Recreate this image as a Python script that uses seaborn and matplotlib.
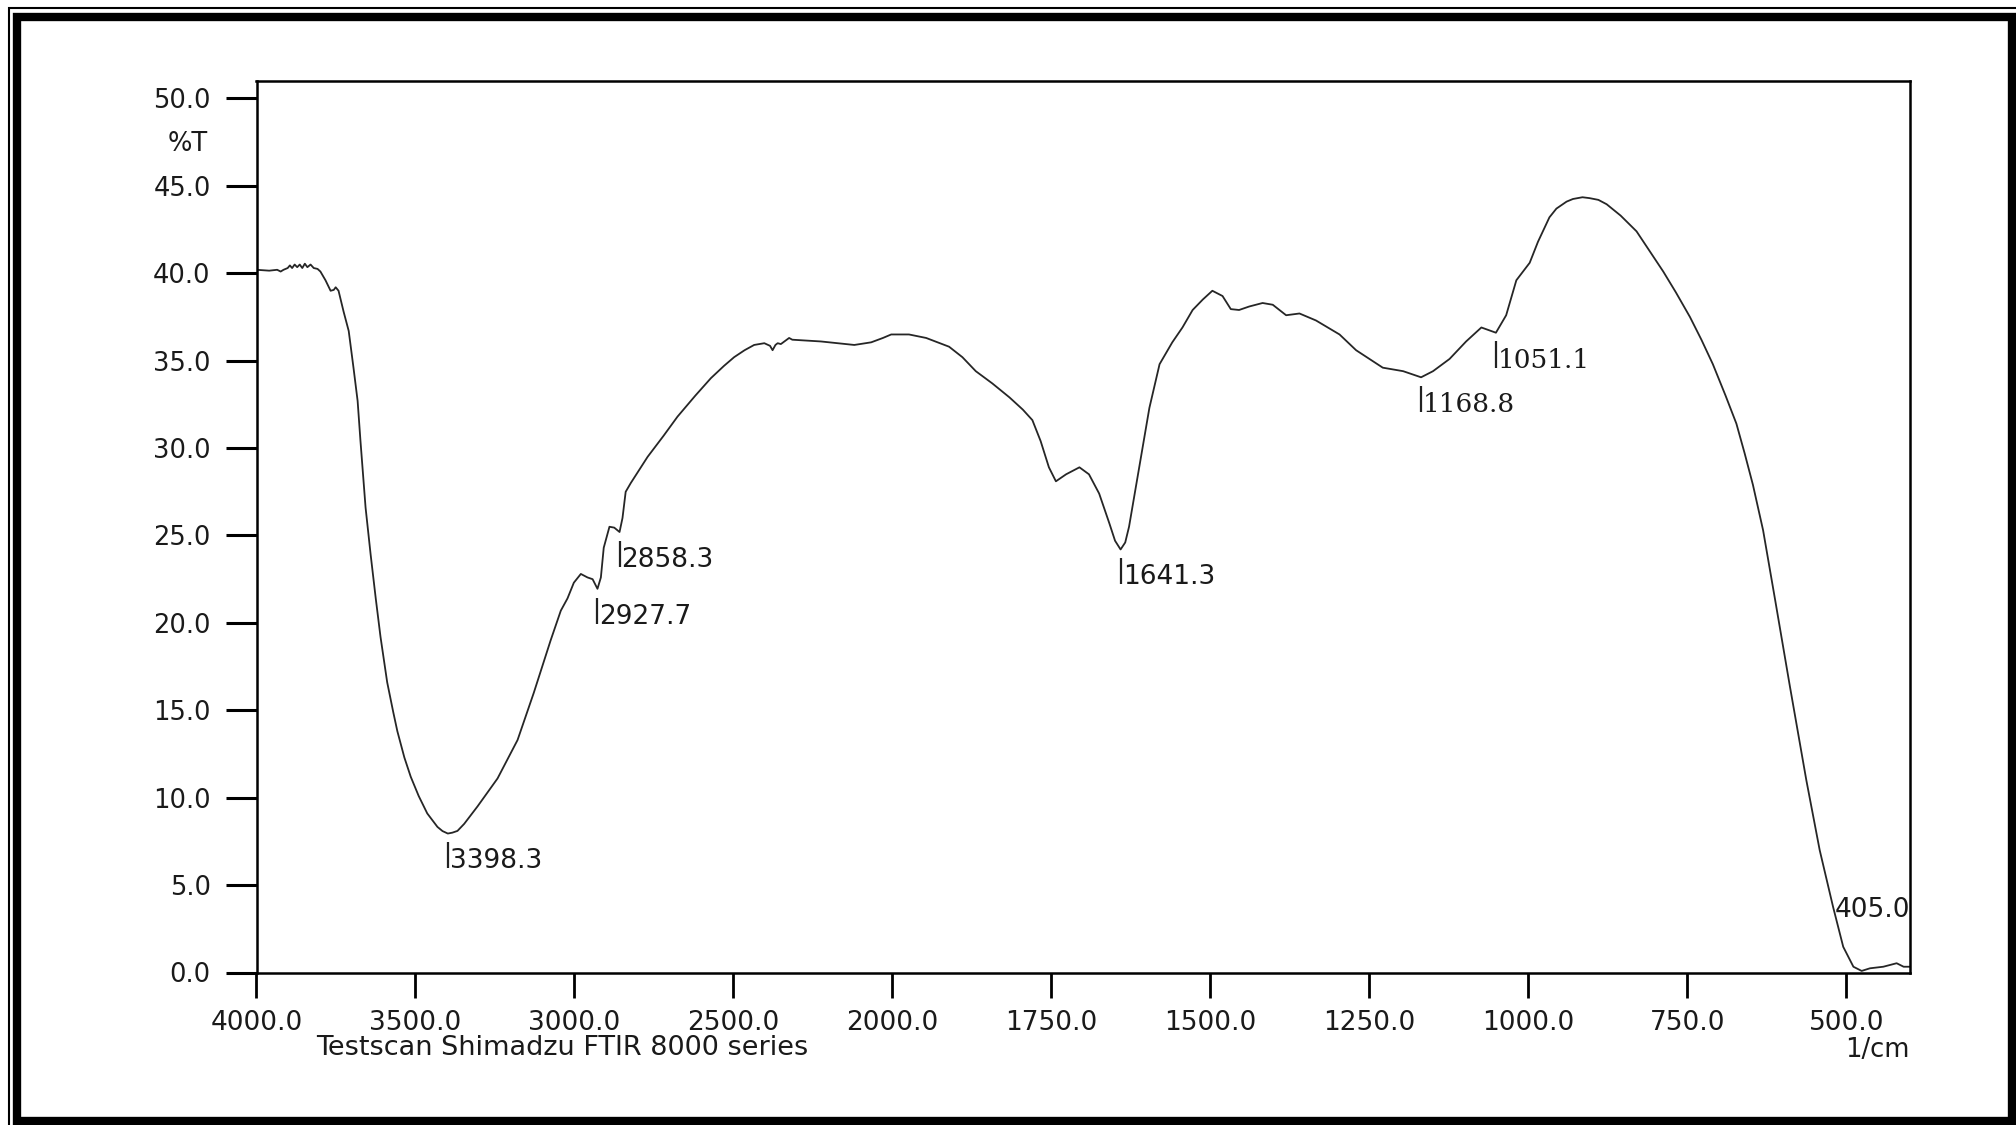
import numpy as np
import pandas as pd
import matplotlib
matplotlib.use("Agg")
import matplotlib.pyplot as plt
import seaborn as sns
from matplotlib.patches import Rectangle

# FTIR spectrum: wavenumber (1/cm) and transmittance (%T)
wavenumber = [
    4000, 3960, 3935, 3924, 3915, 3902, 3895, 3888, 3880, 3872, 3864, 3856,
    3848, 3840, 3830, 3820, 3808, 3799, 3783, 3767, 3757, 3751, 3742, 3726,
    3710, 3695, 3682, 3673, 3657, 3641, 3625, 3610, 3589, 3570, 3557, 3535,
    3515, 3490, 3463, 3431, 3415, 3398.3, 3384, 3368, 3347, 3305, 3242, 3179,
    3128, 3075, 3043, 3022, 3002, 2980, 2959, 2943, 2927.7, 2917, 2908, 2890,
    2875, 2858.3, 2849, 2839, 2823, 2770, 2720, 2676, 2620, 2571, 2530, 2498,
    2465, 2435, 2403, 2385, 2377, 2368, 2361, 2351, 2325, 2315, 2225, 2120,
    2067, 2030, 2004, 1974, 1947, 1911, 1890, 1869, 1843, 1816, 1795, 1780,
    1767, 1754, 1743, 1727, 1706, 1691, 1675, 1659, 1650, 1641.3, 1634, 1628,
    1612, 1596, 1580, 1560, 1544, 1528, 1512, 1497, 1481, 1468, 1455, 1439,
    1418, 1402, 1381, 1360, 1334, 1297, 1271, 1229, 1197, 1168.8, 1150, 1124,
    1098, 1074, 1051.1, 1035, 1019, 998, 985, 967, 956, 940, 930, 915,
    904, 890, 877, 855, 830, 810, 788, 768, 746, 728, 710, 690,
    673, 660, 647, 631, 612, 589, 563, 542, 521, 505, 489, 476,
    463, 442, 421, 410, 400,
]
transmittance = [
    40.2, 40.15, 40.2, 40.1, 40.2, 40.3, 40.45, 40.3, 40.5, 40.35, 40.5, 40.3,
    40.55, 40.35, 40.5, 40.3, 40.25, 40.1, 39.6, 39.0, 39.05, 39.2, 39.0, 37.8,
    36.7, 34.6, 32.7, 30.4, 26.6, 23.9, 21.4, 19.2, 16.6, 14.9, 13.8, 12.3,
    11.2, 10.1, 9.1, 8.33, 8.09, 7.95, 8.0, 8.1, 8.5, 9.5, 11.1, 13.3,
    16.0, 19.0, 20.7, 21.4, 22.3, 22.8, 22.6, 22.5, 21.95, 22.6, 24.3, 25.5,
    25.45, 25.2, 26.0, 27.5, 28.0, 29.5, 30.7, 31.8, 33.0, 34.0, 34.7, 35.2,
    35.6, 35.9, 36.0, 35.85, 35.6, 35.9, 36.0, 35.95, 36.3, 36.2, 36.1, 35.9,
    36.05, 36.3, 36.5, 36.5, 36.3, 35.8, 35.2, 34.4, 33.7, 32.9, 32.2, 31.6,
    30.4, 28.9, 28.1, 28.5, 28.9, 28.5, 27.4, 25.7, 24.7, 24.2, 24.6, 25.5,
    28.9, 32.3, 34.8, 36.05, 36.9, 37.9, 38.5, 39.0, 38.7, 37.95, 37.9, 38.1,
    38.3, 38.2, 37.6, 37.7, 37.3, 36.5, 35.6, 34.6, 34.4, 34.05, 34.4, 35.1,
    36.1, 36.9, 36.6, 37.6, 39.6, 40.6, 41.8, 43.2, 43.7, 44.1, 44.25, 44.35,
    44.3, 44.2, 43.95, 43.3, 42.4, 41.3, 40.1, 38.9, 37.5, 36.2, 34.8, 33.0,
    31.4, 29.7, 27.9, 25.3, 21.3, 16.4, 11.0, 7.0, 3.76, 1.47, 0.33, 0.09,
    0.24, 0.33, 0.53, 0.33, 0.33,
]

peak_wavenumbers = [3398.3, 2927.7, 2858.3, 1641.3, 1168.8, 1051.1]
edge_peak = 405.0

x_ticks = [4000, 3500, 3000, 2500, 2000, 1750, 1500, 1250, 1000, 750, 500]
y_ticks = [0, 5, 10, 15, 20, 25, 30, 35, 40, 45, 50]

sns.set_theme(style="white")
plt.rcParams["font.family"] = ["DejaVu Sans"]

W, H = 2016, 1125
fig = plt.figure(figsize=(W / 100, H / 100), dpi=100)
fig.patch.set_facecolor("white")

# axes box in pixels: left 256.5, right 1910, top 81, bottom 972.5
ax = fig.add_axes([256.5 / W, (H - 972.5) / H, (1910 - 256.5) / W, (972.5 - 81) / H])


# the spectrometer compresses the 4000-2000 range to half scale
def fwd(x):
    x = np.asarray(x, dtype=float)
    return np.where(x > 2000, 1000 + x / 2, x)


def inv(u):
    u = np.asarray(u, dtype=float)
    return np.where(u > 2000, 2 * (u - 1000), u)


df = pd.DataFrame({"wavenumber": wavenumber, "T": transmittance})
sns.lineplot(data=df, x="wavenumber", y="T", ax=ax, estimator=None, sort=False,
             color="#262626", linewidth=1.3)

ax.set_xscale("function", functions=(fwd, inv))
ax.set_xlim(4000, 400)
ax.set_ylim(0, 51)
ax.set_xticks(x_ticks)
ax.set_xticklabels([f"{v:.1f}" for v in x_ticks])
ax.set_yticks(y_ticks)
ax.set_yticklabels([f"{v:.1f}" for v in y_ticks])
ax.set_xlabel("")
ax.set_ylabel("")
ax.grid(False)

ax.tick_params(axis="y", which="major", left=True, direction="out", length=22,
               width=2.2, pad=11, labelsize=18.5, color="black", labelcolor="#1a1a1a")
ax.tick_params(axis="x", which="major", bottom=True, direction="out", length=18,
               width=2.0, pad=9, labelsize=19, color="black", labelcolor="#1a1a1a")
for s in ax.spines.values():
    s.set_color("black")
    s.set_linewidth(1.8)

# peak markers: a short bar under each band with its wavenumber beside it
t_at = dict(zip(wavenumber, transmittance))
for wn in peak_wavenumbers:
    top = t_at[wn] - 0.5
    bottom = top - 1.5
    ax.plot([wn, wn], [bottom, top], color="#222222", lw=1.6, solid_capstyle="butt")
    fam = ["DejaVu Serif"] if wn < 1200 else ["DejaVu Sans"]
    ax.annotate(f"{wn:.1f}", xy=(wn, bottom), xytext=(1.5, 0), textcoords="offset points",
                ha="left", va="baseline", fontsize=19, color="#1a1a1a", family=fam)

ax.annotate(f"{edge_peak:.1f}", xy=(400, t_at[410] + 2.85), ha="right", va="baseline",
            fontsize=19, color="#1a1a1a")

# labels around the axes
fig.text(207.6 / W, 1 - 144 / H, "%T", ha="right", va="center", fontsize=18.5, color="#1a1a1a")
fig.text(316 / W, 1 - 1048 / H, "Testscan Shimadzu FTIR 8000 series", ha="left",
         va="center", fontsize=19.5, color="#1a1a1a")
fig.text(1910 / W, 1 - 1050 / H, "1/cm", ha="right", va="center", fontsize=18.5, color="#1a1a1a")

# double page frame
fig.add_artist(Rectangle((9 / W, -0.05), 1.2, (H - 8) / H + 0.05, transform=fig.transFigure,
                         fill=False, edgecolor="black", linewidth=1.5))
fig.add_artist(Rectangle((17 / W, 4 / H), (2012 - 17) / W, (H - 16.5 - 4) / H,
                         transform=fig.transFigure, fill=False, edgecolor="black",
                         linewidth=6))

fig.savefig("out.png", dpi=100, facecolor="white")
